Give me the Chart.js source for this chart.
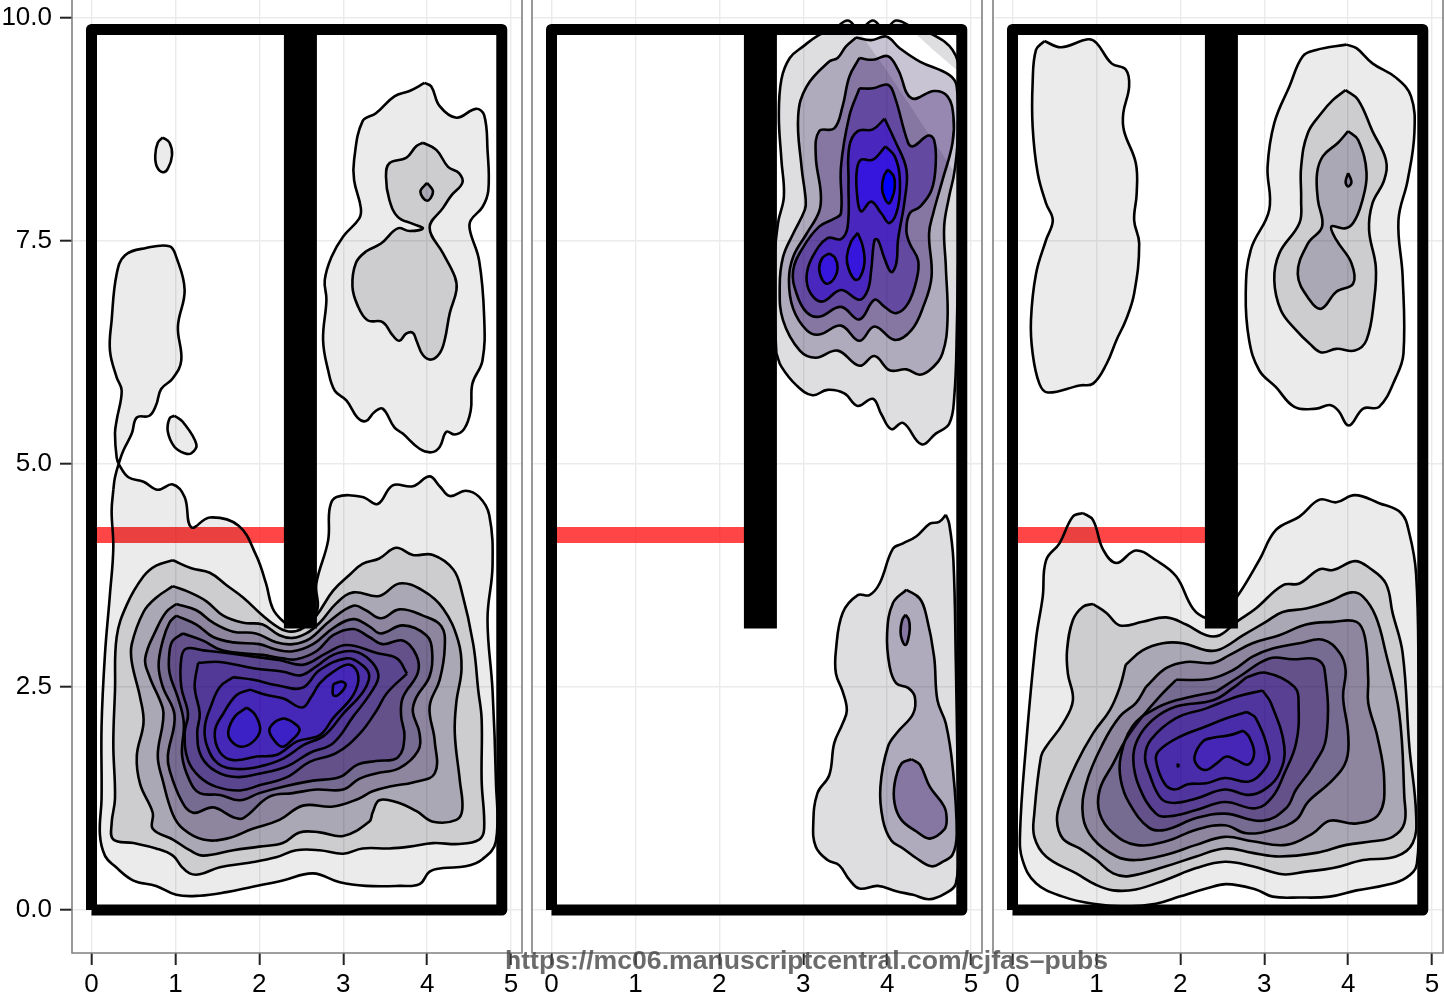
<!DOCTYPE html>
<html>
<head>
<meta charset="utf-8">
<title>density panels</title>
<script src="https://cdn.jsdelivr.net/npm/chart.js@4"></script>
<style>
  html, body { margin: 0; padding: 0; background: #fff; overflow: hidden; }
  canvas { position: absolute; top: 0; }
  #mark { position: absolute; left: 505px; top: 945px; font: bold 26.6px/30px "Liberation Sans", sans-serif;
          color: rgba(70,70,70,.8); white-space: nowrap; }
</style>
</head>
<body>
<canvas id="c1" width="530" height="1001" style="left:0"></canvas>
<canvas id="c2" width="466" height="1001" style="left:524px"></canvas>
<canvas id="c3" width="459" height="1001" style="left:985px"></canvas>
<div id="mark">https://mc06.manuscriptcentral.com/cjfas–pubs</div>
<script>
// axis values
const xTicks = [0, .5, 1, 1.5, 2, 2.5, 3, 3.5, 4, 4.5, 5];
const xMajor = [0, 1, 2, 3, 4, 5];
const yTicks = [0, 1.25, 2.5, 3.75, 5, 6.25, 7.5, 8.75, 10];
const yMajor = [0, 2.5, 5, 7.5, 10];

// reference overlays, same in each panel
const frameLine = [0,0, 0,9.87, 4.89,9.87, 4.89,0, 0,0];
const barLine = [2.49,3.154, 2.49,9.87];
const bandLine = [0,4.204, 2.4,4.204];

// panel 1 contours, x,y pairs
const p1L1 = [.26,4.71,.24,4.47,.26,4.06,.22,3.54,.16,2.86,.12,2.06,.12,1.25,.10,.85,.16,.61,.28,.49,.50,.33,.77,.27,1.01,.17,1.29,.16,1.61,.20,1.92,.26,2.28,.33,2.64,.41,2.96,.31,3.27,.27,3.67,.27,3.91,.29,4.03,.43,4.19,.47,4.46,.49,4.66,.57,4.82,.77,4.82,1.45,4.78,2.46,4.72,3.26,4.78,3.86,4.74,4.43,4.62,4.63,4.46,4.70,4.27,4.64,4.15,4.75,4.03,4.86,3.83,4.75,3.59,4.76,3.41,4.55,3.23,4.63,2.92,4.63,2.84,4.51,2.82,4.14,2.68,3.66,2.68,3.34,2.40,3.18,2.28,3.24,2.16,3.38,2.08,3.66,1.96,3.98,1.75,4.31,1.41,4.40,1.19,4.29,1.11,4.63,.97,4.77,.79,4.71,.62,4.80,.44,4.85,.33,4.99,.30,5.07,.28,5.34,.30,5.49,.36,5.82,.30,5.97,.22,6.27,.24,6.61,.30,7.13,.40,7.34,.65,7.42,.93,7.44,1.01,7.32,1.11,6.95,1.03,6.54,1.07,6.16,.97,5.96,.83,5.84,.77,5.66,.69,5.54,.54,5.52,.48,5.34,.38,5.15,.33,5.02,.28,4.85];
const p1Up1 = [3.97,9.27,4.05,9.23,4.15,9.01,4.35,8.88,4.58,8.98,4.68,8.91,4.72,8.52,4.73,8.07,4.66,7.88,4.52,7.73,4.51,7.62,4.62,7.28,4.68,6.65,4.66,6.16,4.54,5.90,4.52,5.60,4.44,5.39,4.33,5.33,4.23,5.36,4.15,5.19,4.05,5.13,3.91,5.17,3.71,5.34,3.61,5.41,3.47,5.62,3.37,5.58,3.27,5.48,3.17,5.52,3.04,5.71,2.90,5.82,2.82,6.05,2.76,6.39,2.80,6.84,2.78,7.06,2.86,7.32,3.00,7.55,3.19,7.75,3.21,7.87,3.13,8.18,3.13,8.41,3.23,8.84,3.39,8.93,3.61,9.12,3.79,9.18];
const p1Oval = [.85,8.66,.93,8.60,.96,8.46,.91,8.31,.85,8.27,.78,8.33,.76,8.46,.79,8.60];
const p1Patch = [.99,5.54,1.09,5.47,1.25,5.22,1.19,5.12,1.11,5.12,.99,5.19,.91,5.36,.93,5.51];
const p1Up2 = [3.95,8.60,4.11,8.52,4.25,8.33,4.38,8.26,4.42,8.15,4.29,8.01,4.19,7.87,4.03,7.65,4.19,7.36,4.33,7.10,4.35,6.95,4.27,6.69,4.21,6.39,4.15,6.24,4.05,6.17,3.95,6.22,3.87,6.39,3.83,6.47,3.75,6.46,3.67,6.38,3.59,6.44,3.47,6.59,3.29,6.61,3.17,6.78,3.11,6.99,3.15,7.25,3.27,7.38,3.45,7.47,3.65,7.64,3.79,7.61,3.95,7.64,3.83,7.69,3.65,7.77,3.55,7.96,3.51,8.22,3.55,8.37,3.75,8.43,3.87,8.56];
const p1Up3 = [4.00,8.15,4.07,8.05,4.00,7.95,3.92,8.05];
const p1L2 = [.97,3.92,1.19,3.83,1.41,3.78,1.61,3.64,1.81,3.50,2.04,3.30,2.24,3.16,2.38,3.12,2.52,3.16,2.68,3.30,2.88,3.58,3.08,3.76,3.23,3.88,3.43,3.94,3.63,4.06,3.83,3.98,4.07,3.98,4.31,3.82,4.41,3.58,4.55,2.98,4.61,2.46,4.65,2.14,4.65,1.45,4.68,.91,4.62,.79,4.38,.74,4.07,.75,3.79,.71,3.55,.69,3.23,.69,3.00,.63,2.72,.67,2.44,.67,2.20,.59,1.88,.53,1.53,.48,1.29,.40,1.17,.41,1.07,.49,.97,.61,.77,.69,.50,.75,.26,.79,.24,.97,.28,1.25,.26,1.86,.28,2.46,.30,3.06,.42,3.42,.62,3.74,.77,3.86];
const p1L3 = [.97,3.63,1.17,3.56,1.37,3.46,1.57,3.30,1.81,3.22,2.04,3.20,2.24,3.08,2.40,3.05,2.56,3.10,2.72,3.22,2.92,3.44,3.12,3.56,3.43,3.52,3.67,3.66,3.95,3.58,4.19,3.38,4.37,3.02,4.41,2.70,4.35,2.34,4.33,1.98,4.39,1.45,4.42,1.13,4.35,1.01,4.07,.99,3.87,1.11,3.63,1.21,3.43,1.23,3.35,1.09,3.31,.99,3.00,.83,2.72,.87,2.48,.87,2.28,.75,2.00,.71,1.69,.67,1.33,.61,1.17,.67,.97,.79,.73,.91,.73,1.09,.58,1.41,.54,1.73,.62,2.10,.58,2.38,.48,2.78,.48,2.98,.62,3.34,.77,3.50];
const p1L4 = [1.01,3.43,1.25,3.36,1.45,3.22,1.69,3.12,1.96,3.10,2.20,3.00,2.40,2.98,2.60,3.04,2.84,3.24,3.12,3.41,3.27,3.36,3.45,3.27,3.67,3.37,3.95,3.30,4.17,3.18,4.21,2.94,4.15,2.58,4.03,2.28,4.09,1.90,4.09,1.53,3.83,1.43,3.59,1.39,3.35,1.33,3.19,1.25,2.88,1.16,2.52,1.17,2.24,1.01,1.92,.91,1.61,.80,1.33,.79,1.09,.91,.97,1.07,.85,1.45,.79,1.73,.85,2.10,.85,2.26,.69,2.62,.64,2.82,.77,3.14,.89,3.34];
const p1L5 = [1.01,3.30,1.25,3.20,1.45,3.06,1.69,3.00,2.00,2.98,2.20,2.92,2.40,2.90,2.64,2.98,2.88,3.16,3.12,3.26,3.31,3.18,3.45,3.10,3.71,3.19,3.99,3.08,4.06,2.90,4.03,2.62,3.87,2.38,3.83,2.22,3.91,1.98,3.89,1.78,3.67,1.59,3.39,1.53,3.19,1.47,3.00,1.35,2.68,1.35,2.40,1.31,2.12,1.27,1.81,1.03,1.69,1.04,1.45,1.15,1.21,1.09,1.07,1.23,.93,1.57,.91,1.73,.99,2.18,.85,2.50,.80,2.74,.85,3.02,.93,3.22];
const p1L6 = [1.09,3.10,1.33,3.02,1.53,2.92,1.77,2.88,2.04,2.86,2.28,2.82,2.44,2.81,2.68,2.90,2.88,3.08,3.12,3.15,3.31,3.06,3.47,2.98,3.71,3.02,3.87,2.86,3.89,2.66,3.71,2.38,3.69,2.18,3.73,1.94,3.65,1.71,3.39,1.67,3.17,1.63,2.96,1.49,2.64,1.45,2.32,1.39,2.00,1.31,1.77,1.23,1.53,1.29,1.29,1.31,1.17,1.45,1.08,1.73,1.10,2.10,1.03,2.38,.93,2.66,.93,2.90,.97,3.02];
const p1L7 = [3.76,2.65,3.64,2.82,3.40,2.88,3.04,2.97,2.80,2.88,2.53,2.75,2.25,2.80,1.93,2.84,1.61,2.88,1.33,2.91,1.13,2.93,1.07,2.82,1.07,2.50,1.15,2.20,1.11,1.98,1.15,1.68,1.29,1.49,1.49,1.38,1.77,1.34,2.01,1.40,2.33,1.49,2.60,1.66,2.92,1.76,3.20,1.98,3.40,2.24,3.52,2.43];
const p1L8 = [1.27,2.77,1.53,2.78,1.93,2.71,2.29,2.67,2.49,2.63,2.68,2.73,2.88,2.86,3.12,2.90,3.32,2.80,3.42,2.63,3.34,2.45,3.12,2.17,2.88,1.87,2.60,1.76,2.33,1.61,2.01,1.53,1.73,1.49,1.49,1.55,1.31,1.72,1.26,1.98,1.29,2.20,1.23,2.50];
const p1L9 = [1.69,2.61,1.93,2.58,2.21,2.52,2.51,2.49,2.72,2.69,3.04,2.82,3.22,2.75,3.31,2.63,3.24,2.45,3.00,2.20,2.78,1.96,2.53,1.85,2.29,1.70,2.01,1.61,1.73,1.58,1.51,1.64,1.38,1.83,1.35,2.05,1.43,2.30,1.53,2.50];
const p1L10 = [1.89,2.47,2.09,2.41,2.29,2.37,2.51,2.27,2.62,2.39,2.72,2.54,2.88,2.67,3.08,2.75,3.18,2.62,3.12,2.41,2.88,2.15,2.72,1.96,2.45,1.89,2.21,1.74,1.97,1.72,1.69,1.68,1.53,1.77,1.47,2.00,1.57,2.20,1.73,2.41];
const p1PeakA = [1.85,2.27,1.95,2.19,2.01,2.02,1.93,1.89,1.79,1.83,1.67,1.89,1.63,2.00,1.71,2.17];
const p1PeakB = [2.29,2.15,2.39,2.11,2.48,2.02,2.37,1.89,2.27,1.83,2.17,1.91,2.12,2.02,2.19,2.11];
const p1PeakC = [2.88,2.53,2.98,2.56,3.03,2.52,2.94,2.41,2.88,2.41];

// panel 2 contours
const p2Up1Low = [2.68,6.24,2.74,6.09,2.92,5.88,3.11,5.77,3.29,5.83,3.49,5.79,3.65,5.65,3.83,5.73,3.93,5.56,4.05,5.39,4.19,5.46,4.41,5.22,4.58,5.34,4.74,5.45,4.80,5.75,4.83,6.46];
const p2Up1Top = [4.86,9.38,4.78,9.64,4.55,9.81,4.33,9.88,4.11,9.97,3.97,9.87,3.83,9.97,3.67,9.87,3.53,9.97,3.36,9.87,3.19,9.81,3.00,9.68,2.84,9.55,2.74,9.31,2.71,8.90,2.74,8.41,2.77,8.00,2.70,7.70,2.65,7.21,2.66,6.65];
const p2Up1Side = [4.86,8.15];
const p2Up1Notch = [4.82,8.22,4.53,8.65,4.25,9.05,3.96,9.46,3.67,9.87,4.25,9.88,4.55,9.64,4.85,9.40];
const p2Up2 = [3.63,9.78,3.81,9.75,3.99,9.79,4.15,9.66,4.39,9.51,4.74,9.36,4.83,9.23,4.84,8.63,4.80,8.26,4.74,8.00,4.68,7.66,4.70,7.21,4.72,6.61,4.66,6.24,4.53,6.07,4.39,6.00,4.23,6.06,4.03,6.05,3.85,6.21,3.67,6.10,3.41,6.27,3.15,6.19,2.96,6.27,2.76,6.61,2.72,6.99,2.76,7.32,2.88,7.58,3.02,7.85,3.03,7.96,2.98,8.33,2.94,8.90,3.04,9.23,3.31,9.51,3.41,9.55,3.51,9.68];
const p2Up3 = [3.67,9.55,3.83,9.53,4.01,9.57,4.13,9.42,4.29,9.10,4.56,9.18,4.72,9.12,4.79,8.90,4.78,8.60,4.66,8.18,4.55,7.81,4.50,7.58,4.53,7.10,4.43,6.76,4.29,6.50,4.09,6.39,3.85,6.54,3.67,6.38,3.45,6.55,3.19,6.45,3.04,6.50,2.88,6.74,2.83,7.06,2.88,7.32,3.04,7.58,3.19,7.83,3.21,8.03,3.15,8.45,3.19,8.73,3.37,8.76,3.47,9.01,3.55,9.34];
const p2Up4 = [3.67,9.21,3.83,9.21,4.01,9.25,4.09,9.12,4.25,8.60,4.31,8.56,4.49,8.68,4.56,8.63,4.58,8.37,4.53,8.07,4.39,7.88,4.27,7.81,4.23,7.62,4.27,7.47,4.37,7.28,4.35,7.06,4.25,6.80,4.11,6.69,3.97,6.76,3.85,6.84,3.67,6.62,3.45,6.76,3.19,6.65,3.04,6.70,2.92,6.91,2.88,7.17,3.00,7.43,3.19,7.66,3.37,7.75,3.45,7.81,3.45,8.33,3.55,8.90];
const p2Up5 = [3.97,8.87,4.09,8.63,4.23,8.30,4.21,7.96,4.13,7.51,4.11,7.25,4.05,7.15,3.97,7.30,3.89,7.51,3.85,7.51,3.81,7.17,3.77,6.95,3.67,6.84,3.45,6.95,3.23,6.82,3.09,6.91,3.04,7.10,3.11,7.32,3.29,7.53,3.45,7.52,3.53,7.66,3.54,8.15,3.55,8.56,3.65,8.73,3.83,8.75];
const p2Up6a = [3.98,8.56,4.09,8.45,4.15,8.22,4.13,7.88,4.03,7.70,3.93,7.81,3.81,7.94,3.69,7.83,3.64,8.04,3.64,8.30,3.69,8.41,3.83,8.41];
const p2Up6b = [3.65,7.59,3.71,7.44,3.73,7.25,3.67,7.08,3.61,7.07,3.54,7.19,3.52,7.32,3.57,7.49];
const p2Up6c = [3.31,7.36,3.38,7.31,3.41,7.19,3.37,7.08,3.29,7.02,3.23,7.06,3.19,7.19,3.23,7.31];
const p2Up7 = [4.01,8.30,4.08,8.22,4.09,8.09,4.06,7.98,4.02,7.92,3.97,7.98,3.94,8.09,3.96,8.22];
const p2Low1 = [4.70,4.43,4.74,4.33,4.79,3.92,4.82,2.73,4.84,1.61,4.86,.86,4.82,.30,4.70,.19,4.50,.12,4.31,.17,4.11,.21,3.89,.27,3.67,.24,3.55,.34,3.43,.50,3.29,.56,3.15,.71,3.12,.97,3.17,1.31,3.31,1.51,3.37,1.87,3.47,2.09,3.52,2.24,3.47,2.45,3.39,2.65,3.39,2.91,3.47,3.33,3.65,3.53,3.79,3.53,3.91,3.66,4.07,4.05,4.19,4.11,4.35,4.19,4.51,4.33,4.62,4.35];
const p2Low2 = [4.23,3.59,4.39,3.49,4.47,3.29,4.56,2.84,4.60,2.35,4.70,2.09,4.78,1.61,4.83,.86,4.78,.62,4.66,.54,4.53,.49,4.35,.58,4.19,.69,4.05,.78,3.95,1.01,3.92,1.38,4.01,1.83,4.13,2.00,4.31,2.20,4.33,2.39,4.25,2.49,4.11,2.54,4.03,2.73,4.00,3.10,4.07,3.44];
const p2Low3a = [4.22,3.31,4.26,3.25,4.27,3.15,4.25,3.03,4.22,2.97,4.18,3.02,4.16,3.12,4.18,3.25];
const p2Low3b = [4.29,1.69,4.39,1.63,4.51,1.38,4.68,1.16,4.71,1.01,4.68,.90,4.51,.80,4.35,.88,4.17,1.01,4.09,1.19,4.09,1.42,4.17,1.64];

// panel 3 contours
const p3Left = [.38,9.74,.58,9.67,.90,9.76,1.00,9.72,1.18,9.49,1.35,9.42,1.39,9.23,1.32,8.93,1.33,8.73,1.47,8.37,1.48,8.03,1.45,7.73,1.51,7.47,1.45,6.91,1.35,6.61,1.24,6.39,1.12,6.12,.96,5.90,.80,5.88,.42,5.80,.32,5.90,.24,6.24,.22,6.61,.28,7.13,.40,7.51,.48,7.73,.40,7.92,.30,8.26,.24,8.78,.24,9.27,.28,9.64];
const p3Up1 = [3.98,9.70,4.10,9.66,4.29,9.49,4.57,9.33,4.75,9.12,4.79,8.71,4.71,8.18,4.60,7.73,4.65,7.10,4.66,6.24,4.57,5.97,4.37,5.64,4.18,5.62,4.01,5.43,3.88,5.60,3.78,5.66,3.62,5.62,3.36,5.64,3.14,5.86,2.94,6.05,2.82,6.39,2.78,6.91,2.84,7.40,3.06,7.85,3.04,8.33,3.12,8.82,3.30,9.23,3.46,9.57,3.62,9.64];
const p3Up2 = [3.97,9.19,4.12,9.08,4.29,8.73,4.45,8.41,4.43,8.18,4.29,7.92,4.25,7.62,4.33,7.21,4.31,6.84,4.22,6.39,4.08,6.27,3.86,6.29,3.68,6.25,3.54,6.35,3.38,6.50,3.20,6.72,3.12,7.06,3.18,7.36,3.42,7.70,3.44,7.96,3.44,8.33,3.52,8.71,3.68,8.93,3.82,9.08];
const p3Up3 = [4.00,8.73,4.12,8.63,4.22,8.26,4.16,7.92,4.06,7.70,3.96,7.64,3.80,7.66,3.86,7.51,4.04,7.25,4.06,7.02,3.86,6.93,3.68,6.74,3.54,6.84,3.40,7.13,3.52,7.47,3.69,7.66,3.64,7.96,3.63,8.26,3.70,8.45,3.88,8.60];
const p3Up4 = [4.00,8.26,4.04,8.16,4.00,8.11,3.97,8.16];
const p3L1 = [.84,4.45,.96,4.37,1.08,4.04,1.24,3.89,1.47,4.03,1.71,3.92,1.95,3.74,2.15,3.38,2.31,3.27,2.47,3.27,2.69,3.53,2.94,3.92,3.14,4.26,3.42,4.41,3.66,4.60,3.86,4.57,4.08,4.65,4.37,4.56,4.63,4.45,4.73,4.22,4.81,3.77,4.84,2.58,4.84,1.46,4.82,.52,4.69,.36,4.45,.28,4.10,.22,3.78,.15,3.42,.14,3.10,.15,2.90,.23,2.55,.29,2.31,.24,1.99,.15,1.71,.07,1.35,.04,.96,.07,.60,.15,.28,.30,.12,.56,.09,.86,.16,1.83,.28,3.03,.36,3.51,.40,3.92,.56,4.11,.72,4.41];
const p3L2 = [.96,3.43,1.12,3.33,1.28,3.19,1.55,3.23,1.83,3.28,2.07,3.20,2.31,3.08,2.47,3.08,2.67,3.23,2.90,3.38,3.22,3.64,3.42,3.66,3.66,3.82,3.82,3.81,4.08,3.91,4.26,3.83,4.45,3.66,4.53,3.33,4.65,2.88,4.73,1.83,4.81,1.08,4.77,.75,4.57,.60,4.18,.56,3.82,.47,3.50,.43,3.22,.40,2.86,.49,2.53,.54,2.19,.47,1.83,.34,1.47,.23,1.20,.22,1.00,.28,.76,.41,.40,.60,.26,.82,.26,1.08,.34,1.72,.40,1.83,.60,2.09,.72,2.35,.66,2.65,.65,2.91,.72,3.25,.84,3.40];
const p3L3 = [1.35,2.75,1.55,2.91,1.79,2.99,2.03,2.99,2.31,2.91,2.47,2.92,2.75,3.08,3.02,3.23,3.22,3.34,3.50,3.38,3.78,3.46,4.04,3.56,4.18,3.51,4.33,3.29,4.45,2.88,4.61,2.20,4.67,1.27,4.67,.97,4.53,.82,4.29,.77,3.98,.73,3.62,.64,3.18,.60,2.86,.64,2.53,.69,2.19,.60,1.83,.49,1.39,.38,1.20,.41,1.00,.56,.80,.69,.60,.80,.53,1.01,.58,1.23,.76,1.64,.96,1.98,1.16,2.24,1.28,2.50];
const p3L4 = [1.59,2.50,1.83,2.71,2.07,2.78,2.39,2.77,2.59,2.86,2.86,2.99,3.18,3.08,3.50,3.20,3.82,3.23,4.10,3.23,4.20,3.06,4.24,2.58,4.24,2.32,4.35,1.94,4.43,1.46,4.37,1.08,4.10,.97,3.78,1.00,3.58,.86,3.26,.73,2.86,.77,2.53,.82,2.19,.73,1.83,.62,1.47,.56,1.24,.60,.96,.80,.84,1.05,.88,1.42,1.08,1.87,1.28,2.17,1.47,2.32];
const p3L5 = [1.95,2.58,2.35,2.59,2.63,2.69,2.86,2.84,3.10,2.93,3.42,2.99,3.70,3.03,3.90,2.88,3.97,2.69,3.94,2.39,4.00,1.98,3.98,1.68,3.82,1.46,3.52,1.21,3.38,1.01,3.10,.90,2.79,.86,2.53,.95,2.19,.90,1.83,.77,1.47,.73,1.20,.86,1.04,1.08,1.04,1.35,1.20,1.64,1.35,1.91,1.55,2.17,1.75,2.39];
const p3L6 = [2.43,2.45,2.71,2.62,3.06,2.82,3.34,2.81,3.62,2.81,3.72,2.69,3.74,1.94,3.58,1.61,3.38,1.35,3.26,1.14,2.98,1.00,2.53,1.08,2.19,1.03,1.83,.90,1.63,.92,1.39,1.20,1.29,1.46,1.29,1.72,1.43,2.06,1.67,2.24,1.95,2.35];
const p3L7 = [2.79,2.61,3.02,2.66,3.36,2.50,3.41,2.28,3.38,1.87,3.24,1.53,3.10,1.27,2.90,1.14,2.53,1.21,2.19,1.12,1.87,1.05,1.71,1.08,1.51,1.38,1.44,1.68,1.49,1.91,1.67,2.13,1.95,2.28,2.39,2.35,2.63,2.49];
const p3L8 = [2.98,2.46,3.08,2.32,3.24,1.83,3.18,1.53,3.02,1.36,2.82,1.29,2.53,1.35,2.19,1.25,1.93,1.20,1.77,1.25,1.63,1.53,1.58,1.72,1.65,1.91,1.95,2.15,2.31,2.26,2.67,2.39];
const p3L9 = [2.79,2.22,2.90,2.15,3.06,1.72,3.00,1.57,2.82,1.44,2.53,1.48,2.31,1.42,2.09,1.41,1.93,1.35,1.81,1.42,1.71,1.68,1.75,1.79,1.99,1.94,2.31,2.06,2.55,2.15];
const p3L10 = [2.75,2.01,2.82,1.94,2.88,1.76,2.81,1.63,2.67,1.68,2.55,1.72,2.43,1.64,2.31,1.57,2.21,1.61,2.17,1.72,2.27,1.89,2.39,1.93,2.59,1.96];
const p3Speck = [1.96,1.62,1.97,1.63,1.98,1.62,1.97,1.61];

// colour seen at each level once the layers have stacked up
const shades1 = ['#EBEBEB','#CDCDD0','#AAA8B4','#8E859E','#766A90','#655089','#5A4490','#52389A','#4A2EA8','#4427B8','#3B20C8'];
const shades2 = ['#DEDEE1','#B0ABBC','#8677A3','#6349A0','#4A27BE','#3715DC','#0000FF'];
const shades3 = ['#EBEBEB','#CDCDD0','#AAA8B4','#8E859E','#766A90','#655089','#5A3F92','#52349E','#4A2BAA','#4625B8','#3F1EC4'];

const contours1 = [[p1L1,0],[p1Up1,0],[p1Oval,0],[p1Patch,0],[p1Up2,1],[p1Up3,2],[p1L2,1],[p1L3,2],[p1L4,3],[p1L5,4],[p1L6,5],[p1L7,6],[p1L8,7],[p1L9,8],[p1L10,9],[p1PeakA,10],[p1PeakB,10],[p1PeakC,10]];
const contours2 = [[p2Low1,0],[p2Low2,1],[p2Low3a,2],[p2Low3b,2],[p2Up2,1],[p2Up3,2],[p2Up4,3],[p2Up5,4],[p2Up6a,5],[p2Up6b,5],[p2Up6c,5],[p2Up7,6]];
const contours3 = [[p3Left,0],[p3Up1,0],[p3Up2,1],[p3Up3,2],[p3Up4,3],[p3L1,0],[p3L2,1],[p3L3,2],[p3L4,3],[p3L5,4],[p3L6,5],[p3L7,6],[p3L8,7],[p3L9,8],[p3L10,9],[p3Speck,10]];

function rgbOf(hex) {
  return [1, 3, 5].map((i) => parseInt(hex.substr(i, 2), 16));
}

// thinnest translucent colour that turns `under` into `target`
function layerFill(target, under) {
  const t = rgbOf(target), u = rgbOf(under);
  let a = 0.01;
  t.forEach((v, i) => {
    a = Math.max(a, v < u[i] ? (u[i] - v) / u[i] : v > u[i] ? (v - u[i]) / (255 - u[i]) : 0);
  });
  const c = t.map((v, i) => Math.round((v - (1 - a) * u[i]) / a));
  return `rgba(${c[0]},${c[1]},${c[2]},${a.toFixed(3)})`;
}

function pairs(flat, closed) {
  const out = [];
  for (let i = 0; i < flat.length; i += 2) out.push({x: flat[i], y: flat[i + 1]});
  if (closed) out.push(out[0]);
  return out;
}

function overlay(flat, color, width, cap) {
  return {data: pairs(flat), showLine: true, pointRadius: 0, borderColor: color, borderWidth: width,
          borderCapStyle: cap || 'butt', borderJoinStyle: 'round', fill: false};
}

function contour(flat, fillColor) {
  return {data: pairs(flat, true), showLine: true, pointRadius: 0, tension: 0.4, borderColor: '#000', borderWidth: 2.6,
          borderJoinStyle: 'round', fill: 'shape', backgroundColor: fillColor};
}

const panelBorder = {
  id: 'panelBorder',
  afterDatasetsDraw(chart) {
    const {ctx, chartArea: a} = chart;
    ctx.save();
    ctx.strokeStyle = '#808080';
    ctx.lineWidth = 1.6;
    ctx.beginPath();
    ctx.moveTo(a.left, 0);
    ctx.lineTo(a.left, a.bottom);
    ctx.lineTo(a.right, a.bottom);
    ctx.lineTo(a.right, 0);
    ctx.stroke();
    ctx.restore();
  }
};

function drawPanel(id, axisWidth, padRight, showY, datasets) {
  datasets.forEach((d, i) => { d.order = -i; });
  new Chart(document.getElementById(id), {
    type: 'scatter',
    data: {datasets},
    options: {
      responsive: false,
      animation: false,
      events: [],
      layout: {autoPadding: false, padding: {left: 0, top: 0, bottom: 0, right: padRight}},
      plugins: {legend: {display: false}, tooltip: {enabled: false}},
      scales: {
        x: {
          type: 'linear', min: -0.2324, max: 5.131,
          afterBuildTicks: (s) => { s.ticks = xTicks.map((v) => ({value: v})); },
          afterFit: (s) => { s.height = 48; s.paddingLeft = 0; s.paddingRight = 0; },
          border: {display: false},
          grid: {
            color: (c) => xMajor.includes(c.tick.value) ? '#EBEBEB' : '#F6F6F6',
            lineWidth: (c) => xMajor.includes(c.tick.value) ? 1.4 : 1,
            tickColor: (c) => xMajor.includes(c.tick.value) ? '#222' : 'rgba(0,0,0,0)',
            tickLength: 12, tickWidth: 2
          },
          ticks: {
            autoSkip: false, maxRotation: 0, padding: 4, color: '#000',
            font: {family: '"Liberation Sans"', size: 26},
            callback: (v) => xMajor.includes(v) ? String(v) : null
          }
        },
        y: {
          type: 'linear', min: -0.482, max: 10.2,
          afterBuildTicks: (s) => { s.ticks = yTicks.map((v) => ({value: v})); },
          afterFit: (s) => { s.width = axisWidth; s.paddingTop = 0; s.paddingBottom = 0; },
          border: {display: false},
          grid: {
            color: (c) => yMajor.includes(c.tick.value) ? '#EBEBEB' : '#F6F6F6',
            lineWidth: (c) => yMajor.includes(c.tick.value) ? 1.4 : 1,
            tickColor: (c) => showY && yMajor.includes(c.tick.value) ? '#222' : 'rgba(0,0,0,0)',
            tickLength: showY ? 12 : 0, tickWidth: 2
          },
          ticks: {
            display: showY, autoSkip: false, padding: 8, color: '#000',
            font: {family: '"Liberation Sans"', size: 26},
            callback: (v) => yMajor.includes(v) ? v.toFixed(1) : null
          }
        }
      }
    },
    plugins: [panelBorder]
  });
}

function layers(contours, shades) {
  return contours.map(([flat, level]) =>
    contour(flat, layerFill(shades[level], level ? shades[level - 1] : '#FFFFFF')));
}

function base() {
  return [overlay(bandLine, 'rgba(255,0,0,.73)', 16), overlay(frameLine, '#000', 11), overlay(barLine, '#000', 33)];
}

// upper outer band of panel 2 has a wedge left out of its fill, so fill and outline are apart
const p2UpperFill = contour([...p2Up1Low, ...p2Up1Notch, ...p2Up1Top], layerFill(shades2[0], '#FFFFFF'));
p2UpperFill.borderWidth = 0;
p2UpperFill.borderColor = 'rgba(0,0,0,0)';
p2UpperFill.tension = 0.12;
const p2UpperEdge = contour([...p2Up1Low, ...p2Up1Side, ...p2Up1Top], 'rgba(0,0,0,0)');
p2UpperEdge.fill = false;

drawPanel('c1', 72, 8, true, [...base(), ...layers(contours1, shades1)]);
drawPanel('c2', 8, 8, false, [...base(), p2UpperFill, p2UpperEdge, ...layers(contours2, shades2)]);
drawPanel('c3', 8, 1, false, [...base(), ...layers(contours3, shades3)]);
</script>
</body>
</html>
